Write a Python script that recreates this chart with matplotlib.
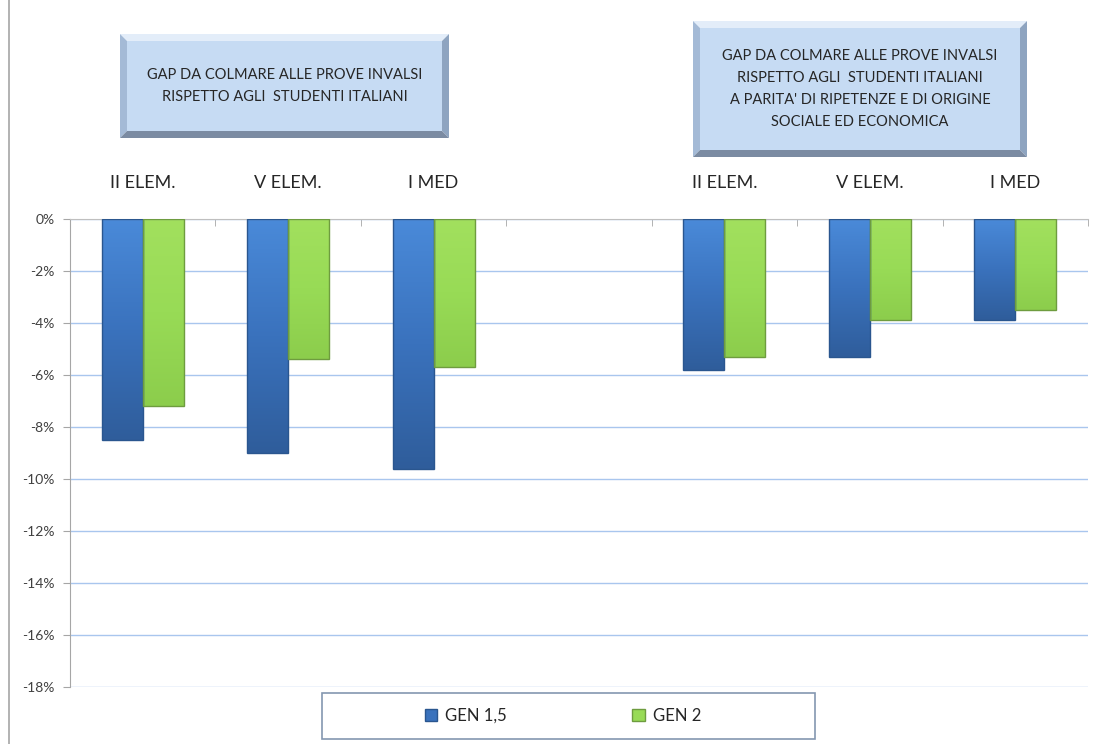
import numpy as np
import matplotlib.pyplot as plt
from matplotlib.patches import Rectangle, Polygon
from matplotlib.colors import LinearSegmentedColormap

plt.rcParams['font.family'] = ['Lato', 'DejaVu Sans']

# data (percent gap); gap category in the middle is empty
categories = ['II ELEM.', 'V ELEM.', 'I MED', '', 'II ELEM.', 'V ELEM.', 'I MED']
gen15 = [-8.5, -9.0, -9.6, np.nan, -5.8, -5.3, -3.9]
gen2 = [-7.2, -5.4, -5.7, np.nan, -5.3, -3.9, -3.5]
series_names = ['GEN 1,5', 'GEN 2']
yticks = list(range(0, -19, -2))

box_left = 'GAP DA COLMARE ALLE PROVE INVALSI\nRISPETTO AGLI  STUDENTI ITALIANI'
box_right = ("GAP DA COLMARE ALLE PROVE INVALSI\nRISPETTO AGLI  STUDENTI ITALIANI\n"
             "A PARITA' DI RIPETENZE E DI ORIGINE\nSOCIALE ED ECONOMICA")

W, H = 1094, 744
fig = plt.figure(figsize=(W / 100, H / 100), dpi=100)


def fx(px):
    return px / W


def fy(py):
    return 1 - py / H


ax = fig.add_axes([fx(70), fy(687), fx(1088) - fx(70), fy(219) - fy(687)])

x = np.arange(len(categories))
bw = 0.282

blue_cmap = LinearSegmentedColormap.from_list('b', ['#4a8ad9', '#3a72bd', '#2f5d9b'])
green_cmap = LinearSegmentedColormap.from_list('g', ['#a2e05e', '#98db56', '#8ccd4c'])


def grad_bars(xs, vals, cmap, edge):
    bars = ax.bar(xs, vals, bw, color='none', edgecolor=edge, linewidth=1.0, zorder=3)
    grad = np.linspace(0, 1, 256).reshape(-1, 1)
    for b, v in zip(bars, vals):
        if np.isnan(v):
            continue
        x0 = b.get_x()
        im = ax.imshow(grad, cmap=cmap, aspect='auto', zorder=2.5,
                       extent=(x0, x0 + b.get_width(), v, 0), origin='upper')
        im.set_clip_path(b)
    return bars


grad_bars(x - bw / 2, gen15, blue_cmap, '#2a568f')
grad_bars(x + bw / 2, gen2, green_cmap, '#6e9c3f')

ax.set_xlim(-0.5, len(categories) - 0.5)
ax.set_ylim(-18, 0)
ax.set_yticks(yticks)
ax.set_yticklabels([f'{t}%' for t in yticks], fontsize=10, color='#404040')
ax.grid(axis='y', color='#a9c6ee', linewidth=1.0)
ax.set_axisbelow(True)

ax.xaxis.tick_top()
ax.set_xticks(x)
ax.set_xticklabels(categories, fontsize=13, color='#262626')
ax.set_xticks(np.arange(-0.5, len(categories), 1), minor=True)
ax.tick_params(axis='x', which='major', length=0, pad=20)
ax.tick_params(axis='x', which='minor', length=5, direction='in', color='#a6a6a6', top=True)
ax.tick_params(axis='y', length=5, color='#a6a6a6', pad=6)

for s in ['right', 'bottom']:
    ax.spines[s].set_visible(False)
ax.spines['top'].set_color('#bfbfbf')
ax.spines['left'].set_color('#a6a6a6')


def bevel_box(x0, y0, x1, y1, text, bev=7):
    # outer / inner corners in figure fraction
    ox0, ox1, oy0, oy1 = fx(x0), fx(x1), fy(y1), fy(y0)
    ix0, ix1, iy0, iy1 = fx(x0 + bev), fx(x1 - bev), fy(y1 - bev), fy(y0 + bev)
    pieces = [
        ([(ox0, oy1), (ox1, oy1), (ix1, iy1), (ix0, iy1)], '#e3edf9'),
        ([(ox0, oy0), (ox0, oy1), (ix0, iy1), (ix0, iy0)], '#a4bad6'),
        ([(ox1, oy0), (ox1, oy1), (ix1, iy1), (ix1, iy0)], '#8ea4c0'),
        ([(ox0, oy0), (ox1, oy0), (ix1, iy0), (ix0, iy0)], '#7b8ba2'),
    ]
    fig.patches.append(Rectangle((ix0, iy0), ix1 - ix0, iy1 - iy0,
                                 transform=fig.transFigure, facecolor='#c6dbf3',
                                 edgecolor='none'))
    for pts, c in pieces:
        fig.patches.append(Polygon(pts, closed=True, transform=fig.transFigure,
                                   facecolor=c, edgecolor='none'))
    fig.text((ox0 + ox1) / 2, (oy0 + oy1) / 2, text, ha='center', va='center',
             fontsize=10.5, color='#262626', linespacing=1.75)


bevel_box(120, 34, 449, 138, box_left)
bevel_box(693, 21, 1027, 157, box_right)

# outer chart frame (left edge only visible)
fig.add_artist(plt.Line2D([fx(9), fx(9)], [0, 1], color='#a6a6a6', lw=1.2))

# legend box
fig.patches.append(Rectangle((fx(322), fy(739)), fx(815) - fx(322), fy(693) - fy(739),
                             transform=fig.transFigure, facecolor='white',
                             edgecolor='#8497b0', linewidth=1.2, zorder=5))
handles = [Rectangle((0, 0), 1, 1, facecolor='#3a72bd', edgecolor='#2a568f'),
           Rectangle((0, 0), 1, 1, facecolor='#98db56', edgecolor='#6e9c3f')]
leg = fig.legend(handles, series_names, loc='center',
                 bbox_to_anchor=(fx(563), fy(716)), ncol=2, frameon=False,
                 fontsize=12, handlelength=0.75, handleheight=0.75,
                 handletextpad=0.5, columnspacing=7.5)
leg.set_zorder(6)
for t in leg.get_texts():
    t.set_color('#262626')

fig.savefig('out.png', dpi=100)
